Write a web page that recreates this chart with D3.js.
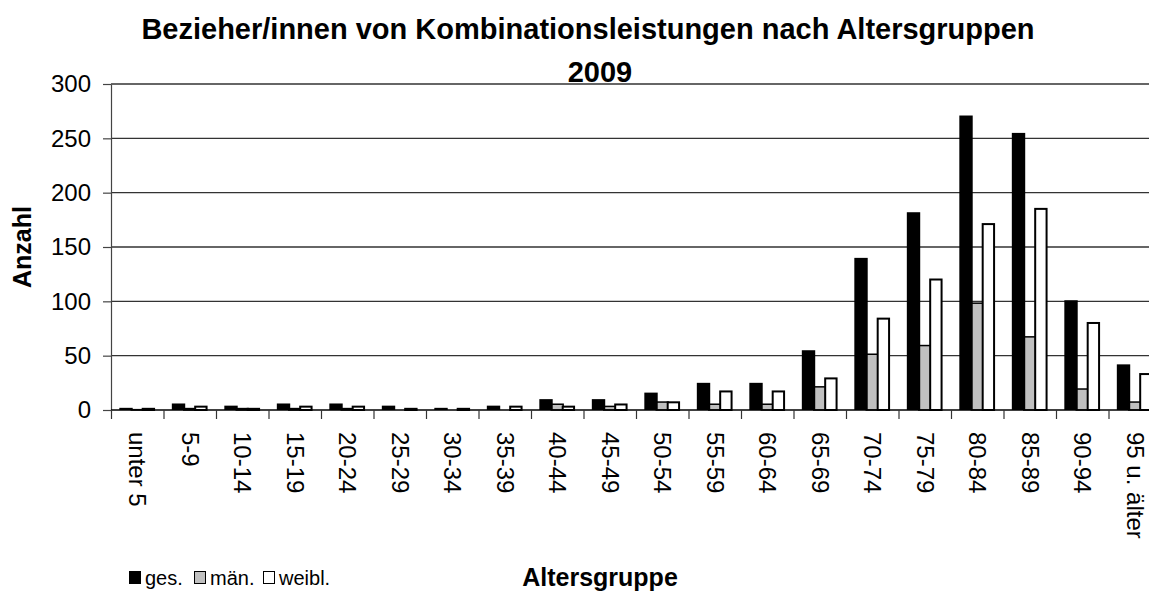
<!DOCTYPE html>
<html>
<head>
<meta charset="utf-8">
<script src="https://cdn.jsdelivr.net/npm/d3@7"></script>
<style>
  body { margin: 0; background: #fff; }
  text { font-family: "Liberation Sans", Arial, sans-serif; fill: #000; }
</style>
</head>
<body>
<svg id="chart" width="1149" height="591"></svg>
<script>
// Age groups and recipient counts (total, male, female)
const categories = ["unter 5", "5-9", "10-14", "15-19", "20-24", "25-29", "30-34", "35-39",
  "40-44", "45-49", "50-54", "55-59", "60-64", "65-69", "70-74", "75-79", "80-84", "85-89",
  "90-94", "95 u. älter"];
const ges   = [2, 6, 4, 6, 6, 4, 2, 4, 10, 10, 16, 25, 25, 55, 140, 182, 271, 255, 101, 42];
const maen  = [1, 2, 2, 2, 2, 0, 0, 0, 6, 4, 8, 6, 6, 22, 52, 60, 99, 68, 20, 8];
const weibl = [2, 4, 2, 4, 4, 2, 2, 4, 4, 6, 8, 18, 18, 30, 85, 121, 172, 186, 81, 34];
const yTicks = [0, 50, 100, 150, 200, 250, 300];
const seriesNames = ["ges.", "män.", "weibl."];

const svg = d3.select("#chart");

const y = d3.scaleLinear().domain([0, 300]).range([410, 84]);
const x = d3.scaleBand().domain(categories).range([111.5, 1161.5]).paddingInner(0).paddingOuter(0);
const bw = x.bandwidth();

// bar geometry inside each age group
const groupOffset = 0.149 * bw;
const barStep = 0.213 * bw;
const barW = 0.255 * bw;

// horizontal gridlines
svg.append("g")
  .selectAll("line")
  .data(yTicks.filter(t => t > 0))
  .join("line")
  .attr("x1", 111).attr("x2", 1149)
  .attr("y1", d => y(d)).attr("y2", d => y(d))
  .attr("stroke", "#333").attr("stroke-width", 1.3);

// series: male (grey) sits between total and female, partly hidden
const series = [
  { key: "maen", values: maen, idx: 1, fill: "#c0c0c0", stroke: "#000", sw: 1.5 },
  { key: "ges", values: ges, idx: 0, fill: "#000", stroke: "none", sw: 0 },
  { key: "weibl", values: weibl, idx: 2, fill: "#fff", stroke: "#000", sw: 2 }
];

const barsG = svg.append("g");
series.forEach(s => {
  barsG.append("g")
    .selectAll("rect")
    .data(categories.map((c, i) => ({ c, v: s.values[i] })))
    .join("rect")
    .attr("x", d => x(d.c) + groupOffset + s.idx * barStep + s.sw / 2)
    .attr("width", barW - s.sw)
    .attr("y", d => y(d.v) + s.sw / 2)
    .attr("height", d => Math.max(0, y(0) - y(d.v) - s.sw / 2))
    .attr("fill", s.fill)
    .attr("stroke", s.stroke)
    .attr("stroke-width", s.sw)
    .attr("display", d => d.v > 0 ? null : "none");
});

// y axis
const yAxis = svg.append("g")
  .attr("transform", "translate(111,0)")
  .call(d3.axisLeft(y).tickValues(yTicks).tickSize(8).tickSizeOuter(0).tickPadding(12));
yAxis.select(".domain").attr("stroke", "#444").attr("stroke-width", 1.2);
yAxis.selectAll(".tick line").attr("stroke", "#444").attr("stroke-width", 1.2);
yAxis.selectAll(".tick text")
  .style("font-size", "24px")
  .style("font-family", "'Liberation Sans', Arial, sans-serif")
  .attr("fill", "#000");

// x axis baseline and boundary ticks
svg.append("line")
  .attr("x1", 111).attr("x2", 1149)
  .attr("y1", y(0)).attr("y2", y(0))
  .attr("stroke", "#000").attr("stroke-width", 1.3);

svg.append("g")
  .selectAll("line")
  .data(categories)
  .join("line")
  .attr("x1", d => x(d)).attr("x2", d => x(d))
  .attr("y1", y(0)).attr("y2", y(0) + 9)
  .attr("stroke", "#333").attr("stroke-width", 1.2);

// rotated category labels
const xAxis = svg.append("g")
  .attr("transform", `translate(0,${y(0)})`)
  .call(d3.axisBottom(x).tickSize(0).tickPadding(0));
xAxis.select(".domain").remove();
xAxis.selectAll(".tick text")
  .attr("transform", "rotate(90)")
  .attr("x", 22)
  .attr("y", 0)
  .attr("dy", "0.36em")
  .attr("text-anchor", "start")
  .style("font-size", "24px")
  .style("font-family", "'Liberation Sans', Arial, sans-serif")
  .attr("fill", "#000");

// title
svg.append("text")
  .attr("x", 588).attr("y", 39)
  .attr("text-anchor", "middle")
  .style("font-size", "29px").style("font-weight", "bold")
  .text("Bezieher/innen von Kombinationsleistungen nach Altersgruppen");
svg.append("text")
  .attr("x", 600).attr("y", 82)
  .attr("text-anchor", "middle")
  .style("font-size", "29px").style("font-weight", "bold")
  .text("2009");

// axis titles
svg.append("text")
  .attr("transform", "translate(31,247) rotate(-90)")
  .attr("text-anchor", "middle")
  .style("font-size", "25px").style("font-weight", "bold")
  .text("Anzahl");
svg.append("text")
  .attr("x", 600).attr("y", 586)
  .attr("text-anchor", "middle")
  .style("font-size", "25px").style("font-weight", "bold")
  .text("Altersgruppe");

// legend
const legendX = [129, 194, 263];
const legendFill = ["#000", "#c0c0c0", "#fff"];
const legend = svg.append("g");
seriesNames.forEach((name, i) => {
  legend.append("rect")
    .attr("x", legendX[i] + 0.5).attr("y", 571.5)
    .attr("width", 11).attr("height", 12)
    .attr("fill", legendFill[i]).attr("stroke", "#000").attr("stroke-width", 1);
  legend.append("text")
    .attr("x", legendX[i] + 16).attr("y", 585)
    .style("font-size", "20px")
    .text(name);
});
</script>
</body>
</html>
